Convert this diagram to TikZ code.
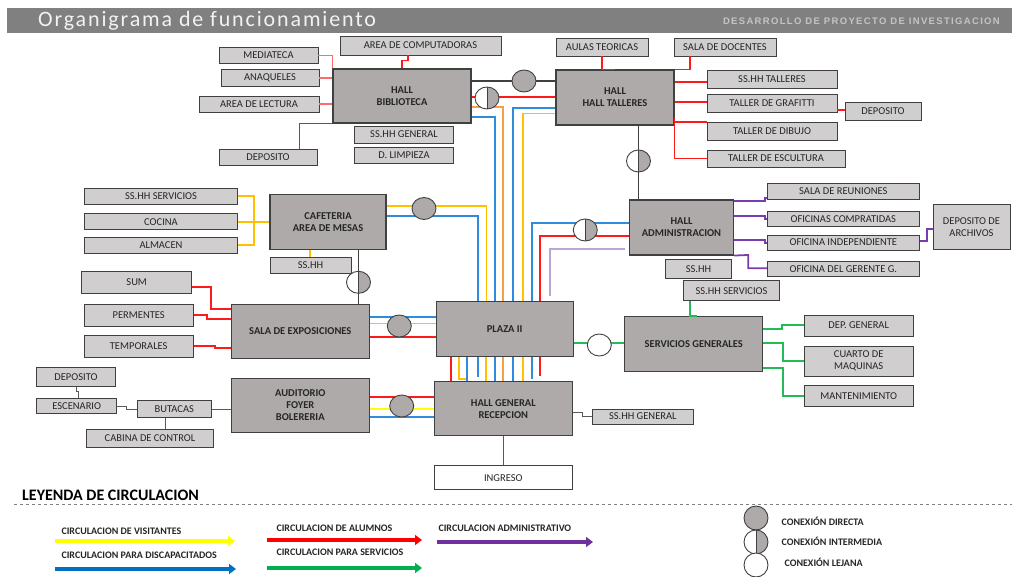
\documentclass[tikz,border=0pt]{standalone}
\usepackage{fontspec}
\setmainfont{Carlito}
\newfontfamily\headfont{Liberation Sans}
\usetikzlibrary{arrows.meta,shapes.geometric}

\definecolor{hallgray}{HTML}{AEAAAA}
\definecolor{roomgray}{HTML}{D0CECE}
\definecolor{edgegray}{HTML}{404040}
\definecolor{linkgray}{HTML}{595959}
\definecolor{bargray}{HTML}{808080}
\definecolor{titlewhite}{HTML}{F2F2F2}
\definecolor{headgray}{HTML}{C4C4C4}
\definecolor{textgray}{HTML}{262626}
\definecolor{cvisit}{HTML}{FFC000}
\definecolor{cyellow}{HTML}{FFFF00}
\definecolor{calum}{HTML}{FF1A1A}
\definecolor{calumlt}{HTML}{FF6B6B}
\definecolor{cdisc}{HTML}{2F8BDB}
\definecolor{corange}{HTML}{F7A043}
\definecolor{cserv}{HTML}{22BB55}
\definecolor{cadmin}{HTML}{7A3DB0}
\definecolor{clav}{HTML}{B9A6D9}
\definecolor{legblue}{HTML}{0070C0}
\definecolor{leggreen}{HTML}{00B050}
\definecolor{legpurple}{HTML}{7030A0}

\tikzset{
  sz/.style 2 args={minimum width=#1, minimum height=#2},
  hall/.style={draw=edgegray, line width=1.1pt, fill=hallgray, align=center, inner sep=1pt, text=textgray,
    font=\fontsize{10.5}{12}\selectfont\bfseries},
  room/.style={draw=edgegray, line width=0.9pt, fill=roomgray, align=center, inner sep=1pt, text=textgray,
    font=\fontsize{10.5}{12}\selectfont},
  circ/.style={line width=1.8pt},
  visit/.style={circ, cvisit},
  visy/.style={circ, cyellow},
  alum/.style={circ, calum},
  alumlt/.style={circ, calumlt},
  disc/.style={circ, cdisc},
  orng/.style={circ, corange},
  serv/.style={circ, cserv},
  admin/.style={circ, cadmin},
  lav/.style={circ, clav},
  link/.style={linkgray, line width=1pt},
  joint/.style={edgegray, line width=1.4pt},
  dconn/.style={ellipse, draw=edgegray, line width=0.9pt, fill=hallgray, minimum width=24, minimum height=22, inner sep=0},
  lconn/.style={ellipse, draw=edgegray, line width=0.9pt, fill=white, minimum width=24, minimum height=22, inner sep=0},
  hconn/.style={ellipse, draw=edgegray, line width=0.9pt, fill=white, minimum width=24, minimum height=22, inner sep=0,
    path picture={\fill[hallgray] (path picture bounding box.north) rectangle (path picture bounding box.south east);
      \draw[edgegray] (path picture bounding box.north) -- (path picture bounding box.south);}},
  legtext/.style={anchor=west, text=textgray, font=\fontsize{10}{12}\selectfont\bfseries},
}

\begin{document}
\begin{tikzpicture}[x=1pt, y=-1pt, >={Triangle[length=7pt,width=10pt]}]
\useasboundingbox (0,0) rectangle (1012,577);

% ==================== encabezado ====================
\fill[bargray] (7,8) rectangle (1012,33);
\node[anchor=west, text=titlewhite, inner sep=0, font=\fontsize{22}{24}\selectfont\addfontfeature{LetterSpace=8.5}] (titulo) at (38,20.5) {Organigrama de funcionamiento};
\node[anchor=east, text=headgray, inner sep=0, font=\headfont\bfseries\fontsize{9.5}{10}\selectfont\addfontfeature{LetterSpace=14}] (proyecto) at (1000,21) {DESARROLLO DE PROYECTO DE INVESTIGACION};

% ==================== halls ====================
\node[hall, sz={138}{54}] (bib) at (402,96) {HALL\\BIBLIOTECA};
\node[hall, sz={118}{55}] (tal) at (615,97.5) {HALL\\HALL TALLERES};
\node[hall, sz={116}{55}] (caf) at (328,221.7) {CAFETERIA\\AREA DE MESAS};
\node[hall, sz={104}{55}] (adm) at (681.5,227.5) {HALL\\ADMINISTRACION};
\node[hall, sz={138}{54}] (sala) at (300.3,331.2) {SALA DE EXPOSICIONES};
\node[hall, sz={137}{55}] (plaza) at (504.7,329.2) {PLAZA II};
\node[hall, sz={138}{55}] (serv) at (693.8,343.7) {SERVICIOS GENERALES};
\node[hall, sz={138}{54}] (aud) at (300.3,405.3) {AUDITORIO\\FOYER\\BOLERERIA};
\node[hall, sz={138}{54}] (hgen) at (503.3,408.8) {HALL GENERAL\\RECEPCION};
\node[room, fill=white, sz={138}{24}] (ingreso) at (503.3,477.8) {INGRESO};

% ==================== ambientes ====================
% biblioteca
\node[room, sz={99}{16}] (media) at (268.5,55.5) {MEDIATECA};
\node[room, sz={98}{17}] (anaq) at (270,78) {ANAQUELES};
\node[room, sz={120}{16}] (lect) at (259,104) {AREA DE LECTURA};
\node[room, sz={161}{19}] (comp) at (420.5,45.5) {AREA DE COMPUTADORAS};
\node[room, sz={99}{17}] (sshhbib) at (404,134.5) {SS.HH GENERAL};
\node[room, sz={99}{16}] (limp) at (404,155) {D. LIMPIEZA};
\node[room, sz={98}{16}] (depbib) at (268,157) {DEPOSITO};
% talleres
\node[room, sz={92}{18}] (aulas) at (602,47) {AULAS TEORICAS};
\node[room, sz={102}{18}] (docentes) at (725,47) {SALA DE DOCENTES};
\node[room, sz={130}{18}] (sstal) at (772,79) {SS.HH TALLERES};
\node[room, sz={130}{18}] (grafitti) at (772,103) {TALLER DE GRAFITTI};
\node[room, sz={76}{18}] (deptal) at (883,111) {DEPOSITO};
\node[room, sz={130}{18}] (dibujo) at (772,131) {TALLER DE DIBUJO};
\node[room, sz={138}{17}] (escultura) at (776,158.5) {TALLER DE ESCULTURA};
% cafeteria
\node[room, sz={153}{16}] (sscafserv) at (161,196.3) {SS.HH SERVICIOS};
\node[room, sz={153}{16}] (cocina) at (161,221.7) {COCINA};
\node[room, sz={153}{16}] (almacen) at (161,245.3) {ALMACEN};
\node[room, sz={81}{16}] (sscaf) at (310.5,265.3) {SS.HH};
% sala de exposiciones
\node[room, sz={110}{22}] (sum) at (136.7,282.5) {SUM};
\node[room, sz={109}{22}] (perm) at (138.7,315) {PERMENTES};
\node[room, sz={109}{22}] (temp) at (138.7,346) {TEMPORALES};
% auditorio
\node[room, sz={79}{19}] (depaud) at (76,377) {DEPOSITO};
\node[room, sz={80}{15}] (escen) at (76.7,406) {ESCENARIO};
\node[room, sz={74}{17}] (butacas) at (174.3,408.8) {BUTACAS};
\node[room, sz={127}{18}] (cabina) at (150,438) {CABINA DE CONTROL};
\node[room, sz={101}{15}] (sshhrec) at (642.8,416.5) {SS.HH GENERAL};
% administracion
\node[room, sz={152}{16}] (reun) at (843.3,191.3) {SALA DE REUNIONES};
\node[room, sz={152}{15}] (compart) at (843.3,219.2) {OFICINAS COMPRATIDAS};
\node[room, sz={152}{15}] (indep) at (843.3,242.5) {OFICINA INDEPENDIENTE};
\node[room, sz={152}{15}] (gerente) at (843.3,269.2) {OFICINA DEL GERENTE G.};
\node[room, sz={77}{45}] (archivos) at (971.5,226.7) {DEPOSITO DE\\ARCHIVOS};
\node[room, sz={66}{19}] (ssadm) at (698.5,268.8) {SS.HH};
% servicios generales
\node[room, sz={96}{20}] (ssserv) at (731.5,290.8) {SS.HH SERVICIOS};
\node[room, sz={109}{21}] (depgen) at (858.7,325.5) {DEP. GENERAL};
\node[room, sz={109}{30}] (maquinas) at (858.7,361) {CUARTO DE\\MAQUINAS};
\node[room, sz={109}{21}] (mant) at (858.7,396) {MANTENIMIENTO};

% ==================== circulaciones ====================
% biblioteca
\draw[alumlt] (media.east) -| (bib.north west);
\draw[alumlt] (anaq.east) -- (bib.west |- anaq.east);
\draw[alumlt] (lect.east) -- (bib.west |- lect.east);
\draw[alum] (comp.south -| 408,0) -- ++(0,5) -| (bib.north -| 402,0);
\draw[link] (bib.south west) -| (depbib.north -| 299,0);
\draw[joint] (bib.east |- 0,81) -- (tal.west |- 0,81);
\draw[alum] (bib.east |- 0,97) -- (tal.west |- 0,97);
\draw[orng] (bib.east |- 0,107) -| (plaza.north -| 503.3,0);
\draw[disc] (bib.east |- 0,117) -| (plaza.north -| 495,0);
% talleres
\draw[disc] (tal.west |- 0,108) -| (plaza.north -| 512.7,0);
\draw[visit] (tal.west |- 0,113.5) -| (plaza.north -| 523,0);
\draw[alum] (aulas.south) |- (tal.north -| 615,0);
\draw[alum] (docentes.south -| 690,0) |- (tal.north east);
\draw[alum] (tal.east |- 0,81.7) -- (sstal.west |- 0,81.7);
\draw[alum] (tal.east |- 0,102.3) -- (grafitti.west |- 0,102.3);
\draw[alum] (tal.east |- 0,122.3) -- (dibujo.west |- 0,122.3);
\draw[alum] (tal.east |- 0,118) |- (escultura.west);
\draw[alum] (grafitti.east |- 0,110) -- (deptal.west |- 0,110);
\draw[joint] (tal.south -| 638.5,0) -- (adm.north -| 638.5,0);
% cafeteria
\draw[visit] (caf.east |- 0,206) -| (plaza.north -| 486.5,0);
\draw[disc] (caf.east |- 0,216) -| (plaza.north -| 478,0);
\draw[visit] (sscafserv.east) -| (254,0 |- almacen.east) -- (almacen.east);
\draw[visit] (cocina.east) -- (caf.west);
\draw[visit] (caf.south -| 310,0) -- (sscaf.north -| 310,0);
\draw[joint] (caf.south -| 358.5,0) -- (sala.north -| 358.5,0);
% sala de exposiciones
\draw[alum] (sum.east |- 0,287) -- (210.7,287) |- (sala.west |- 0,308.7);
\draw[alum] (perm.east |- 0,315.3) -- (206.7,315.3) |- (sala.west |- 0,318.7);
\draw[alum] (temp.east) -- (215,346) |- (sala.west |- 0,348.3);
\draw[disc] (sala.east |- 0,316.7) -- (plaza.west |- 0,316.7);
\draw[visit] (sala.east |- 0,323.5) -- (plaza.west |- 0,323.5);
\draw[alum] (sala.east |- 0,336.7) -- (plaza.west |- 0,336.7);
% plaza - hall general
\draw[alum] (plaza.south -| 451,0) -- (hgen.north -| 451,0);
\draw[visit] (plaza.south -| 459,0) -- (459,379) -- (466.7,379);
\draw[disc] (plaza.south -| 466.7,0) -- (hgen.north -| 466.7,0);
\draw[disc] (plaza.south -| 478.3,0) -- (478.3,377);
\draw[visit] (plaza.south -| 486,0) -- (hgen.north -| 486,0);
\draw[disc] (plaza.south -| 495,0) -- (hgen.north -| 495,0);
\draw[orng] (plaza.south -| 503.3,0) -- (hgen.north -| 503.3,0);
\draw[disc] (plaza.south -| 512.7,0) -- (hgen.north -| 512.7,0);
\draw[visit] (plaza.south -| 522.7,0) -- (hgen.north -| 522.7,0);
\draw[disc] (plaza.south -| 531.7,0) -- (531.7,379);
\draw[alum] (plaza.south -| 540,0) -- (540,376);
% administracion
\draw[disc] (adm.west |- 0,223.3) -| (plaza.north -| 531.7,0);
\draw[alum] (adm.west |- 0,235.7) -| (plaza.north -| 540,0);
\draw[lav, shorten <=4pt, shorten >=5pt] (adm.west |- 0,249) -| (plaza.north -| 550,0);
\draw[admin] (adm.east |- 0,201) -- (765,201) |- (reun.west |- 0,198);
\draw[admin] (adm.east |- 0,216) -- (765,216) |- (compart.west |- 0,219);
\draw[admin] (adm.east |- 0,240) -- (765,240) |- (indep.west |- 0,242.7);
\draw[admin] (adm.south east) -- (748.3,255) |- (gerente.west |- 0,268.3);
\draw[admin] (indep.east |- 0,240.7) -- (926.7,240.7) |- (archivos.west |- 0,229.3);
% servicios generales
\draw[serv] (ssserv.south -| 690,0) |- (serv.north -| 697,0);
\draw[serv] (plaza.east |- 0,343.3) -- (serv.west |- 0,343.3);
\draw[serv] (serv.east |- 0,328.7) -- (781.7,328.7) |- (depgen.west |- 0,325);
\draw[serv] (serv.east |- 0,343.3) -- (783.3,343.3) |- (maquinas.west |- 0,360.7);
\draw[serv] (serv.east |- 0,368) -- (782.7,368) |- (mant.west);
% auditorio y recepcion
\draw[alum] (aud.east |- 0,396.7) -- (hgen.west |- 0,396.7);
\draw[visy] (aud.east |- 0,409) -- (hgen.west |- 0,409);
\draw[disc] (aud.east |- 0,417) -- (hgen.west |- 0,417);
\draw[link] (butacas.east |- 0,409) -- (aud.west |- 0,409);
\draw[link] (escen.east) -- (126.7,406) |- (butacas.west |- 0,409);
\draw[link] (depaud.south) -- ++(0,5) -| (escen.north -| 78.7,0);
\draw[link] (butacas.south -| 165.7,0) -- (cabina.north -| 165.7,0);
\draw[link] (hgen.south) -- (ingreso.north);
\draw[link] (hgen.east |- 0,412) -- (582,412) |- (sshhrec.west);

% ==================== conexiones ====================
\node[dconn] (c1) at (524,81) {};
\node[hconn] (c2) at (487,98) {};
\node[hconn] (c3) at (638.5,161) {};
\node[dconn] (c4) at (424,208.5) {};
\node[hconn] (c5) at (358.5,282.3) {};
\node[hconn] (c6) at (585.3,230) {};
\node[dconn] (c7) at (399.3,326) {};
\node[lconn] (c8) at (599.3,345) {};
\node[dconn] (c9) at (401.7,406) {};

% ==================== leyenda ====================
\node[anchor=west, inner sep=0, font=\fontsize{16}{17}\selectfont\bfseries] (leyenda) at (22,495) {LEYENDA DE CIRCULACION};
\draw[gray, dashed, line width=0.8pt] (14,504) -- (1012,504);
\node[legtext] (lvis) at (58,531) {CIRCULACION DE VISITANTES};
\node[legtext] (ldisc) at (58,555) {CIRCULACION PARA DISCAPACITADOS};
\node[legtext] (lalum) at (273,528) {CIRCULACION DE ALUMNOS};
\node[legtext] (lserv) at (273,552) {CIRCULACION PARA SERVICIOS};
\node[legtext] (ladm) at (435,528) {CIRCULACION ADMINISTRATIVO};
\draw[cyellow, line width=3.5pt, ->] (55,541) -- (235,541);
\draw[legblue, line width=3.5pt, ->] (55,569) -- (236,569);
\draw[red, line width=3.5pt, ->] (267,540) -- (422,540);
\draw[leggreen, line width=3.5pt, ->] (267,568) -- (422,568);
\draw[legpurple, line width=3.5pt, ->] (437,542) -- (593,542);
\node[dconn, minimum height=24] (ldir) at (756,518) {};
\node[hconn, minimum height=24] (lmed) at (756,542) {};
\node[lconn, minimum height=24] (llej) at (756,565) {};
\node[legtext] (tdir) at (778,521) {CONEXIÓN DIRECTA};
\node[legtext] (tmed) at (778,541) {CONEXIÓN INTERMEDIA};
\node[legtext] (tlej) at (781,562) {CONEXIÓN LEJANA};
\end{tikzpicture}
\end{document}
